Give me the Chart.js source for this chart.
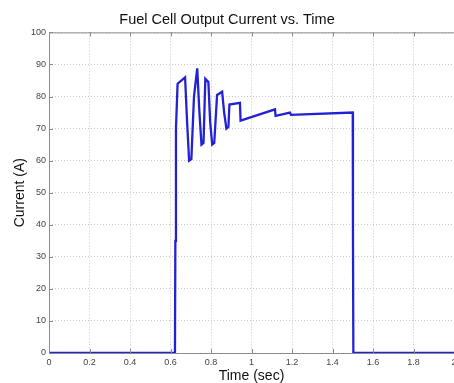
<!DOCTYPE html>
<html>
<head>
<meta charset="utf-8">
<script src="https://cdn.jsdelivr.net/npm/chart.js@4"></script>
<style>
  html, body { margin: 0; padding: 0; background: #fff; }
  canvas { display: block; }
</style>
</head>
<body>
<canvas id="fcChart" width="454" height="383"></canvas>
<script>
/* ─── Data ──────────────────────────────────────── */
const times = [
  0, 0.622, 0.624, 0.627, 0.635, 0.672, 0.682, 0.692, 0.703, 0.716,
  0.732, 0.742, 0.753, 0.763, 0.772, 0.787, 0.796, 0.806, 0.816, 0.830,
  0.855, 0.865, 0.876, 0.886, 0.891, 0.943, 0.946, 1.116, 1.119, 1.190,
  1.195, 1.500, 1.501, 1.503, 2
];
const currents = [
  0, 0, 35, 70, 84, 86, 72, 60, 60.5, 80,
  88.8, 76, 65, 65.5, 85.5, 84.5, 72, 65, 65.5, 80.5,
  81.5, 75, 70, 70.5, 77.5, 78, 72.5, 76, 74, 75,
  74.3, 75, 38, 0, 0
];
const xTicks = [0, 0.2, 0.4, 0.6, 0.8, 1, 1.2, 1.4, 1.6, 1.8, 2];
const yTicks = [0, 10, 20, 30, 40, 50, 60, 70, 80, 90, 100];

const points = times.map((t, i) => ({ x: t, y: currents[i] }));

Chart.defaults.font.family = "'Liberation Sans', Arial, sans-serif";
Chart.defaults.color = '#444';

/* ─── MATLAB-like frame + inward ticks ──────────── */
const framePlugin = {
  id: 'frame',
  afterDraw(chart) {
    const { ctx, chartArea: a, scales } = chart;
    ctx.save();
    ctx.strokeStyle = '#8a8a8a';
    ctx.lineWidth = 1;
    ctx.beginPath();
    ctx.moveTo(a.left + 0.5, a.bottom + 0.5);
    ctx.lineTo(a.left + 0.5, a.top + 0.5);
    ctx.lineTo(a.right, a.top + 0.5);
    ctx.moveTo(a.left, a.bottom + 0.5);
    ctx.lineTo(a.right, a.bottom + 0.5);
    xTicks.forEach(v => {
      const px = Math.round(scales.x.getPixelForValue(v)) + 0.5;
      ctx.moveTo(px, a.bottom); ctx.lineTo(px, a.bottom - 4);
      ctx.moveTo(px, a.top);    ctx.lineTo(px, a.top + 4);
    });
    yTicks.forEach(v => {
      const py = Math.round(scales.y.getPixelForValue(v)) + 0.5;
      ctx.moveTo(a.left, py); ctx.lineTo(a.left + 4, py);
    });
    ctx.stroke();
    ctx.restore();
  }
};

new Chart(document.getElementById('fcChart'), {
  type: 'line',
  data: {
    datasets: [{
      data:        points,
      borderColor: '#2222d4',
      borderWidth: 2.3,
      pointRadius: 0,
      tension:     0,
      fill:        false
    }]
  },
  options: {
    responsive: false,
    animation:  false,
    plugins: {
      legend:  { display: false },
      tooltip: { enabled: false },
      title: {
        display: true,
        text:    'Fuel Cell Output Current vs. Time',
        color:   '#111',
        font:    { size: 14.5, weight: 'normal', lineHeight: 1.2 },
        padding: { top: 11, bottom: 4 }
      }
    },
    scales: {
      x: {
        type: 'linear',
        min: 0,
        max: 2,
        border: { display: false, dash: [1, 2] },
        grid:   { color: '#c8c8c8', drawTicks: false },
        ticks: {
          stepSize: 0.2,
          padding: 4,
          maxRotation: 0,
          autoSkip: false,
          font: { size: 9 },
          callback: v => String(parseFloat(v.toFixed(1)))
        },
        title: {
          display: true,
          text: 'Time (sec)',
          color: '#111',
          font: { size: 14, lineHeight: 1 },
          padding: { top: 0, bottom: 0 }
        },
        afterFit: s => { s.height = 30; s.paddingLeft = 0; s.paddingRight = 0; }
      },
      y: {
        min: 0,
        max: 100,
        border: { display: false, dash: [1, 2] },
        grid:   { color: '#c8c8c8', drawTicks: false },
        ticks: {
          stepSize: 10,
          padding: 3,
          font: { size: 9 }
        },
        title: {
          display: true,
          text: 'Current (A)',
          color: '#111',
          font: { size: 14, lineHeight: 1.2 },
          padding: { top: 12, bottom: 0 }
        },
        afterFit: s => { s.width = 49; s.paddingTop = 0; s.paddingBottom = 0; }
      }
    }
  },
  plugins: [framePlugin]
});
</script>
</body>
</html>
